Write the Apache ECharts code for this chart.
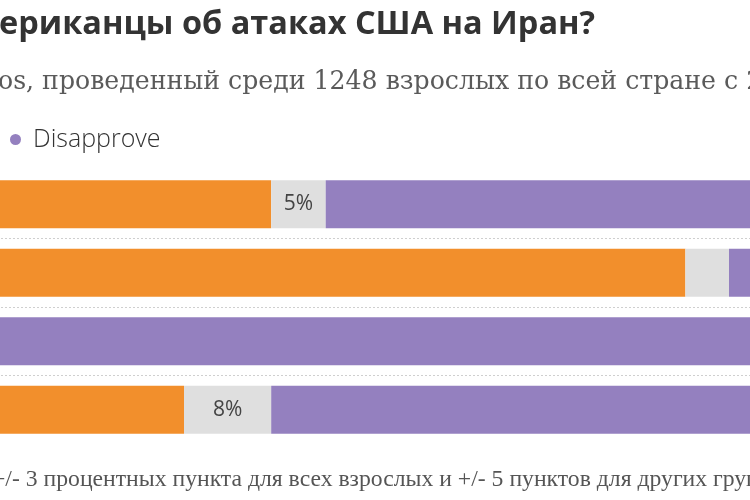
<!DOCTYPE html>
<html>
<head>
<meta charset="utf-8">
<script src="https://cdn.jsdelivr.net/npm/echarts@6/dist/echarts.min.js"></script>
<style>
html,body{margin:0;padding:0;background:#fff;}
#chart{width:750px;height:500px;}
</style>
</head>
<body>
<div id="chart"></div>
<script>
// Data (the reference is a cropped view; hidden parts estimated)
const categories = ['Все', 'Республиканцы', 'Демократы', 'Независимые'];
const approve    = [38, 76, 8, 30];
const notSure    = [5, 4, 4, 8];
const disapprove = [57, 20, 88, 62];
const seriesNames = ['Approve', 'Not sure', 'Disapprove'];
const titleText = 'ериканцы об атаках США на Иран?';
const subtitleText = 'os, проведенный среди 1248 взрослых по всей стране с 2';
const footerText = '+/- 3 процентных пункта для всех взрослых и +/- 5 пунктов для других групп';

const chart = echarts.init(document.getElementById('chart'), null, {renderer: 'canvas'});
const colors = ['#F28F2C', '#DFDFDF', '#9480BF'];
const values = [approve, notSure, disapprove];

const option = {
  animation: false,
  backgroundColor: '#ffffff',
  color: colors,
  title: [
    {text: titleText, left: -1, top: 8, padding: 0,
     textStyle: {fontFamily: 'Open Sans', fontWeight: 'bold', fontSize: 32.5, color: '#333333'}},
    {text: subtitleText, left: -2, top: 70, padding: 0,
     textStyle: {fontFamily: 'DejaVu Serif', fontWeight: 'normal', fontSize: 25.2, color: '#5a5a5a'}},
    {text: footerText, left: -8, top: 468, padding: 0,
     textStyle: {fontFamily: 'Liberation Serif', fontWeight: 'normal', fontSize: 23.7, color: '#555555'}}
  ],
  legend: {
    data: ['Disapprove'],
    left: 5, top: 122,
    icon: 'circle', itemWidth: 11, itemHeight: 11, itemGap: 8,
    textStyle: {fontFamily: 'Open Sans', fontWeight: 300, fontSize: 25, color: '#333333', padding: [0, 0, 0, 7]}
  },
  grid: {left: -143, right: -197, top: 170, bottom: 56, outerBoundsMode: 'none', containLabel: false},
  xAxis: {type: 'value', min: 0, max: 100, show: false},
  yAxis: {
    type: 'category', data: categories, inverse: true,
    axisLine: {show: false}, axisTick: {show: false}, axisLabel: {show: false},
    splitLine: {show: true, showMinLine: false, showMaxLine: false,
      lineStyle: {type: [2, 2], color: '#cfcfcf', width: 1}}
  },
  series: seriesNames.map((name, i) => ({
    name: name, type: 'bar', stack: 'total', barWidth: 48,
    data: values[i],
    itemStyle: {color: colors[i]},
    label: {
      show: i === 1, position: 'inside',
      formatter: p => (p.value >= 5 ? p.value + '%' : ''),
      fontFamily: 'Open Sans', fontSize: 21, color: '#444444', fontWeight: 'normal'
    }
  }))
};
chart.setOption(option);
</script>
</body>
</html>
